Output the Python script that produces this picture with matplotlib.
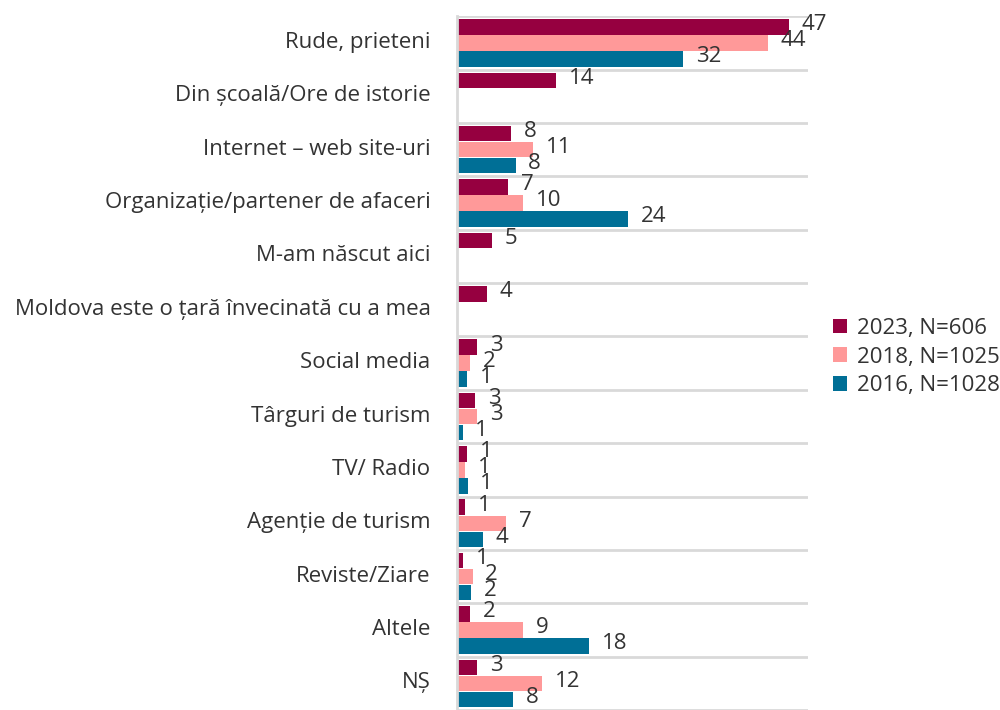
import matplotlib
matplotlib.use("agg")
import matplotlib.pyplot as plt
from matplotlib.patches import Patch
from matplotlib.transforms import ScaledTranslation
import numpy as np

plt.rcParams["font.family"] = ["Open Sans", "DejaVu Sans"]

categories = [
    "Rude, prieteni",
    "Din școală/Ore de istorie",
    "Internet – web site-uri",
    "Organizație/partener de afaceri",
    "M-am născut aici",
    "Moldova este o țară învecinată cu a mea",
    "Social media",
    "Târguri de turism",
    "TV/ Radio",
    "Agenție de turism",
    "Reviste/Ziare",
    "Altele",
    "NȘ",
]
series_names = ["2023, N=606", "2018, N=1025", "2016, N=1028"]
v2023 = [47, 14, 8, 7, 5, 4, 3, 3, 1, 1, 1, 2, 3]
v2018 = [44, np.nan, 11, 10, np.nan, np.nan, 2, 3, 1, 7, 2, 9, 12]
v2016 = [32, np.nan, 8, 24, np.nan, np.nan, 1, 1, 1, 4, 2, 18, 8]
# bar widths as drawn (small ones differ a bit from the rounded label)
w2023 = [47, 14, 7.7, 7.2, 5, 4.2, 2.9, 2.6, 1.4, 1.1, 0.9, 1.9, 2.9]
w2018 = [44, np.nan, 10.8, 9.4, np.nan, np.nan, 1.8, 2.9, 1.2, 7, 2.2, 9.4, 12]
w2016 = [32, np.nan, 8.3, 24.2, np.nan, np.nan, 1.4, 0.8, 1.5, 3.7, 2, 18.7, 8]

colors = ["#960040", "#ff9999", "#006f96"]
txt = "#333333"
fs = 16

fig = plt.figure(figsize=(10, 7.1), dpi=100)
ax = fig.add_axes([0.457, 0.0, 0.351, 0.977])

y = np.arange(len(categories))
offsets = [-0.3, 0.0, 0.3]
for vals, widths, col, off in zip([v2023, v2018, v2016], [w2023, w2018, w2016], colors, offsets):
    for yi, v, w in zip(y, vals, widths):
        if np.isnan(v):
            continue
        ax.barh(yi + off, w, height=0.29, color=col)
        ax.text(w + 1.8, yi + off - 0.04, "%d" % v, va="center", ha="left",
                fontsize=fs, color=txt)

for b in np.arange(-0.5, len(categories), 1.0):
    ax.axhline(b, color="#d9d9d9", linewidth=2, zorder=0)

ax.set_xlim(0, 49.7)
ax.set_ylim(len(categories) - 0.5, -0.5)
ax.set_yticks(y)
ax.set_yticklabels(categories, fontsize=fs, color=txt)
ax.tick_params(axis="y", length=0, pad=19)
# category names sit a little above the band centre in the original
shift = ScaledTranslation(0, 3 / 100, fig.dpi_scale_trans)
for lab in ax.get_yticklabels():
    lab.set_transform(lab.get_transform() + shift)
ax.set_xticks([])
for s in ["top", "right", "bottom"]:
    ax.spines[s].set_visible(False)
ax.spines["left"].set_color("#d9d9d9")
ax.spines["left"].set_linewidth(2)

handles = [Patch(facecolor=c) for c in colors]
fig.legend(handles, series_names, loc="center left", bbox_to_anchor=(0.813, 0.497),
           frameon=False, fontsize=fs, handlelength=0.65, handleheight=0.65,
           handletextpad=0.45, labelspacing=0.35, labelcolor=txt)

fig.savefig("out.png")
